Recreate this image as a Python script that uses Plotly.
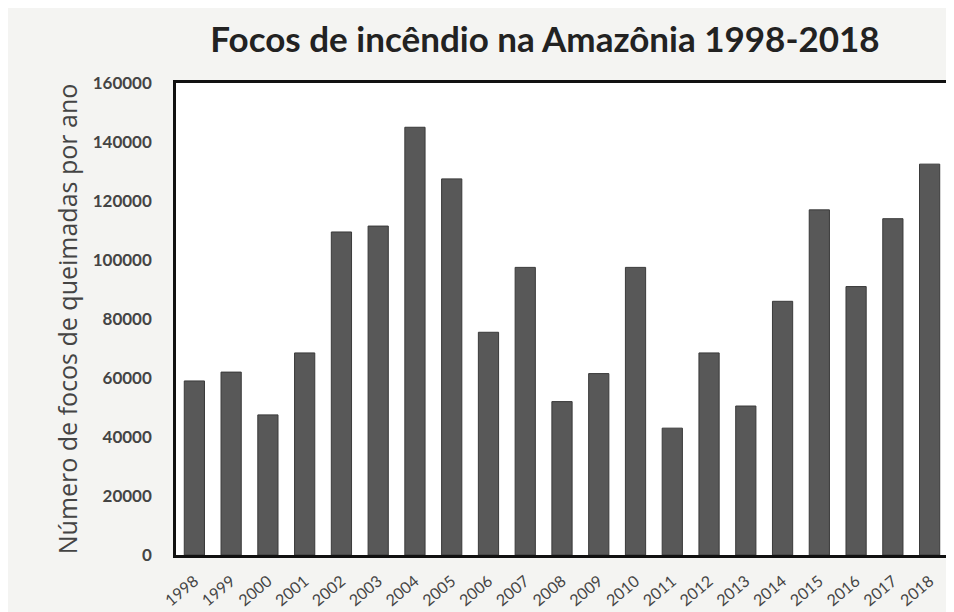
import plotly.graph_objects as go

anos = ["1998", "1999", "2000", "2001", "2002", "2003", "2004", "2005", "2006", "2007",
        "2008", "2009", "2010", "2011", "2012", "2013", "2014", "2015", "2016", "2017", "2018"]
focos = [59000, 62000, 47500, 68500, 109500, 111500, 145000, 127500, 75500, 97500,
         52000, 61500, 97500, 43000, 68500, 50500, 86000, 117000, 91000, 114000, 132500]
y_ticks = [0, 20000, 40000, 60000, 80000, 100000, 120000, 140000, 160000]

fig = go.Figure()
fig.add_trace(go.Bar(
    x=anos, y=focos,
    marker=dict(color="#585858", line=dict(color="#3a3a3a", width=1)),
))

fig.update_layout(
    width=954, height=612,
    paper_bgcolor="#f4f4f2", plot_bgcolor="#ffffff",
    margin=dict(l=168, r=11, t=75, b=57),
    bargap=0.45,
    showlegend=False,
    title=dict(text="<b>Focos de incêndio na Amazônia 1998-2018</b>",
               x=537 / 954, xanchor="center", y=1 - 32 / 612, yanchor="middle",
               font=dict(family="Lato, Open Sans, sans-serif", size=35, color="#222222")),
    font=dict(family="Lato, Open Sans, sans-serif", color="#444444"),
)
fig.update_xaxes(
    showline=True, linecolor="#111111", linewidth=2.5, mirror=True,
    tickangle=-40, tickfont=dict(size=16, color="#444444"),
    ticks="", showgrid=False, ticklabelstandoff=8,
)
fig.update_yaxes(
    range=[0, 160000], tickvals=y_ticks, ticktext=[str(v) for v in y_ticks],
    showline=True, linecolor="#111111", linewidth=2.5, mirror=True,
    showgrid=False, zeroline=False, ticks="", ticklabelstandoff=18,
    tickfont=dict(size=17, color="#444444", family="Lato, sans-serif", weight="bold"),
    title=dict(text="Número de focos de queimadas por ano", standoff=8,
               font=dict(size=25, color="#444444", family="Open Sans, sans-serif")),
)

fig.write_html("out.html")
